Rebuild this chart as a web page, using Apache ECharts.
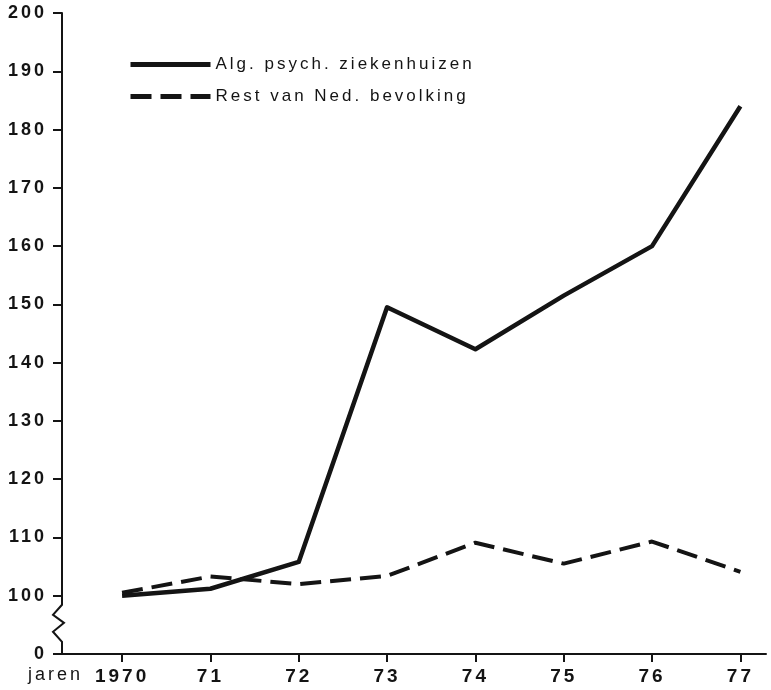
<!DOCTYPE html>
<html>
<head>
<meta charset="utf-8">
<script src="https://cdn.jsdelivr.net/npm/echarts@6/dist/echarts.min.js"></script>
<style>
  html, body { margin: 0; padding: 0; background: #fff; }
  #chart { width: 771px; height: 690px; }
</style>
</head>
<body>
<div id="chart"></div>
<script>
var years = [1970, 1971, 1972, 1973, 1974, 1975, 1976, 1977];
var yearLabels = ['1970', '71', '72', '73', '74', '75', '76', '77'];
var psychHospitals = [100, 101.2, 105.8, 149.5, 142.3, 151.5, 160, 184];
var restPopulation = [100.5, 103.3, 102, 103.4, 109.1, 105.5, 109.3, 104.1];

var ink = '#141414';
var font = '"Liberation Sans", Arial, sans-serif';

// the printed lettering is widely tracked
var origFillText = CanvasRenderingContext2D.prototype.fillText;
CanvasRenderingContext2D.prototype.fillText = function () {
  this.letterSpacing = '3px';
  return origFillText.apply(this, arguments);
};

function pairs(vals) {
  return years.map(function (y, i) { return [y, vals[i]]; });
}

var myChart = echarts.init(document.getElementById('chart'));
var option = {
  animation: false,
  backgroundColor: '#fff',
  grid: { left: 62, top: 13, right: 5, bottom: 36, containLabel: false },
  legend: {
    orient: 'vertical',
    left: 123,
    top: 51,
    itemWidth: 80,
    itemHeight: 14,
    itemGap: 15,
    itemStyle: { color: 'transparent', borderWidth: 0, opacity: 0 },
    lineStyle: { width: 5, color: ink },
    textStyle: { color: ink, fontSize: 17, fontFamily: font, padding: [0, 0, 0, 0] },
    data: ['Alg. psych. ziekenhuizen', 'Rest van Ned. bevolking']
  },
  xAxis: {
    type: 'value',
    min: 1969.32,
    max: 1977.29,
    splitLine: { show: false },
    axisLine: { lineStyle: { color: ink, width: 2 } },
    axisTick: { show: true, length: 8, customValues: years, lineStyle: { color: ink, width: 2 } },
    axisLabel: {
      customValues: years,
      margin: 13,
      color: ink,
      fontSize: 19,
      fontWeight: 'bold',
      fontFamily: font,
      formatter: function (v) { return yearLabels[years.indexOf(Math.round(v))]; }
    }
  },
  yAxis: {
    type: 'value',
    min: 90,
    max: 200,
    interval: 10,
    splitLine: { show: false },
    axisLine: { show: true, lineStyle: { color: ink, width: 2 } },
    axisTick: { show: true, inside: false, length: 9, lineStyle: { color: ink, width: 2 } },
    axisLabel: {
      margin: 15,
      color: ink,
      fontSize: 18,
      fontWeight: 'bold',
      fontFamily: font,
      formatter: function (v) { return v === 90 ? '0' : String(v); }
    }
  },
  series: [
    {
      name: 'Alg. psych. ziekenhuizen',
      type: 'line',
      data: pairs(psychHospitals),
      showSymbol: false,
      symbol: 'none',
      lineStyle: { color: ink, width: 4.5, join: 'round' },
      itemStyle: { color: ink }
    },
    {
      name: 'Rest van Ned. bevolking',
      type: 'line',
      data: pairs(restPopulation),
      showSymbol: false,
      symbol: 'none',
      lineStyle: { color: ink, width: 4, type: [21, 9] },
      itemStyle: { color: ink }
    }
  ]
};
myChart.setOption(option);

// axis break zigzag and "jaren" caption, added straight to the zrender layer
(function () {
  var zr = myChart.getZr();
  var y0 = myChart.convertToPixel({ yAxisIndex: 0 }, 98.45);
  var y1 = myChart.convertToPixel({ yAxisIndex: 0 }, 92.1);
  var ax = myChart.convertToPixel({ xAxisIndex: 0 }, 1969.32);
  var h = y1 - y0;
  zr.add(new echarts.graphic.Rect({
    shape: { x: ax - 3, y: y0, width: 6, height: h },
    style: { fill: '#fff' },
    z: 100
  }));
  zr.add(new echarts.graphic.Polyline({
    shape: { points: [[ax, y0 - 1], [ax, y0], [ax - 9, y0 + h * 0.27], [ax + 2, y0 + h * 0.49], [ax - 9, y0 + h * 0.73], [ax, y1], [ax, y1 + 1]] },
    style: { stroke: ink, lineWidth: 2, fill: null },
    z: 101
  }));
  zr.add(new echarts.graphic.Text({
    style: { text: 'jaren', x: 28, y: 666, fill: ink, font: '18px ' + font },
    z: 101
  }));
})();
</script>
</body>
</html>
